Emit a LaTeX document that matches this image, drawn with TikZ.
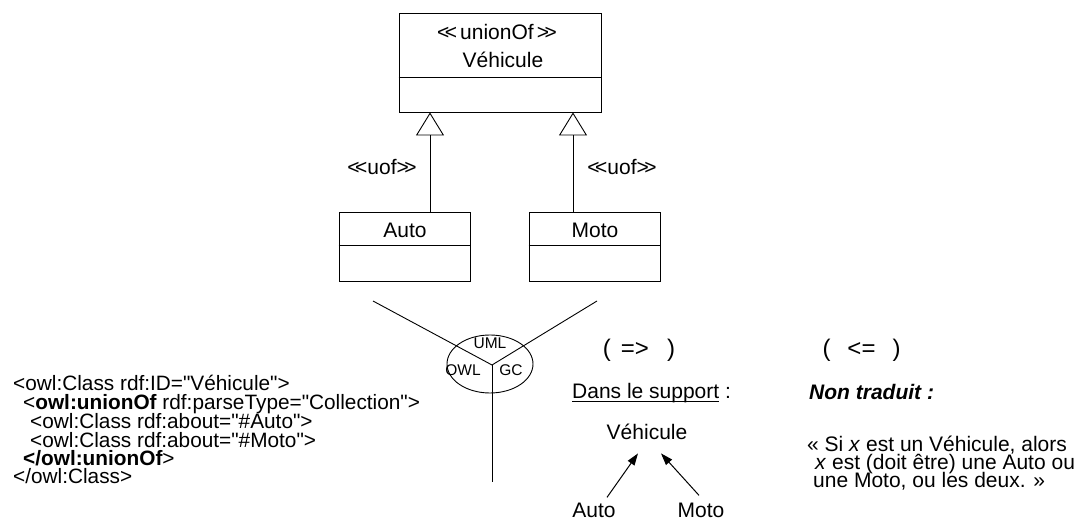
\documentclass[tikz,border=0pt]{standalone}
\usepackage{fontspec}
\setmainfont{Liberation Sans}[Ligatures=TeXOff]
\usetikzlibrary{arrows.meta}
\newcommand\llt{<\kern-4.5pt<}
\newcommand\ggt{>\kern-4.5pt>}
\begin{document}
\begin{tikzpicture}[x=1pt,y=-1pt,
  txt/.style={inner sep=0pt, font=\fontsize{21}{21}\selectfont},
  big/.style={inner sep=0pt, font=\fontsize{24}{24}\selectfont},
  code/.style={inner sep=0pt, anchor=base west, text height=14pt, text depth=2pt, font=\fontsize{20.8}{20.8}\selectfont},
  quote/.style={inner sep=0pt, anchor=base west, text height=14pt, text depth=2pt, font=\fontsize{21}{21}\selectfont},
  small/.style={inner sep=0pt, font=\fontsize{15.5}{15.5}\selectfont},
  cls/.style={draw, line width=0.9pt, inner sep=0pt},
  ln/.style={line width=0.9pt},
  gen/.style={ln, -{Triangle[open, length=23pt, width=28pt, line width=0.9pt]}},
  arr/.style={line width=1pt, -{Triangle[length=12pt, width=8pt]}},
]
\useasboundingbox (0,0) rectangle (1090,518);

% UML class Vehicule
\node[cls, minimum width=202pt, minimum height=99pt] (veh) at (500,62.5) {};
\draw[ln] (veh.west |- 0,77) -- (veh.east |- 0,77);
\node[txt, anchor=base] (stereo) at (497,40) {\llt\kern3pt unionOf\kern3pt\ggt};
\node[txt, anchor=base] (vehname) at (503,68) {Véhicule};

% Auto / Moto classes
\node[cls, minimum width=131pt, minimum height=69pt] (auto) at (404.5,246.5) {};
\draw[ln] (auto.west |- 0,245) -- (auto.east |- 0,245);
\node[txt, anchor=base] (autoname) at (405,238) {Auto};
\node[cls, minimum width=131pt, minimum height=69pt] (moto) at (594.5,246.5) {};
\draw[ln] (moto.west |- 0,245) -- (moto.east |- 0,245);
\node[txt, anchor=base] (motoname) at (595,238) {Moto};

% generalisations
\coordinate (la) at (430,0);
\coordinate (ra) at (573,0);
\draw[gen] (auto.north -| la) -- (veh.south -| la);
\draw[gen] (moto.north -| ra) -- (veh.south -| ra);
\node[txt, anchor=base] (uof1) at (382,175) {\llt uof\ggt};
\node[txt, anchor=base] (uof2) at (622,175) {\llt uof\ggt};

% three-way split with ellipse
\draw[ln] (490,364) ellipse [x radius=43pt, y radius=29pt];
\coordinate (J) at (492,365);
\coordinate (jl) at (373,301);
\coordinate (jr) at (597,301);
\coordinate (jb) at (492,482);
\draw[ln] (jl) -- (J) -- (jr);
\draw[ln] (J) -- (jb);
\node[small] (uml) at (490,343) {UML};
\node[small] (owl) at (463,370) {OWL};
\node[small] (gc) at (511,370) {GC};

% OWL code
\node[code] (c1) at (13,391) {<owl:Class rdf:ID="Véhicule">};
\node[code] (c2) at (23,410) {<\textbf{owl:unionOf} rdf:parseType="Collection">};
\node[code] (c3) at (30,428.5) {<owl:Class rdf:about="\#Auto">};
\node[code] (c4) at (30,447) {<owl:Class rdf:about="\#Moto">};
\node[code] (c5) at (23,465) {\textbf{</owl:unionOf}>};
\node[code] (c6) at (13,483.5) {</owl:Class>};

% (=>) column
\node[big, anchor=base] (imp) at (639,357) {(\hspace{10pt}=>\hspace{18pt})};
\node[txt, anchor=base west] (dans) at (572,399)
  {\setbox0\hbox{Dans le support}\rlap{\rule[-2.5pt]{\wd0}{0.9pt}}\box0\ :};
\node[txt, anchor=base] (veh2) at (647,440) {Véhicule};
\node[txt, anchor=base] (auto2) at (594,517) {Auto};
\node[txt, anchor=base] (moto2) at (701,517) {Moto};
\draw[arr] ([shift={(13,-5)}]auto2.north) -- ([shift={(-9,13)}]veh2.south);
\draw[arr] ([shift={(-2,-7)}]moto2.north) -- ([shift={(14,13)}]veh2.south);

% (<=) column
\node[big, anchor=base] (rev) at (861.5,357) {(\hspace{17pt}<=\hspace{17pt})};
\node[txt, anchor=base west] (nontr) at (809,400) {\textbf{\textit{Non traduit :}}};
\node[quote] (q1) at (807,451) {« Si \textit{x} est un Véhicule, alors};
\node[quote] (q2) at (815,469) {\textit{x} est (doit être) une Auto ou};
\node[quote] (q3) at (813,487) {une Moto, ou les deux. »};
\end{tikzpicture}
\end{document}
